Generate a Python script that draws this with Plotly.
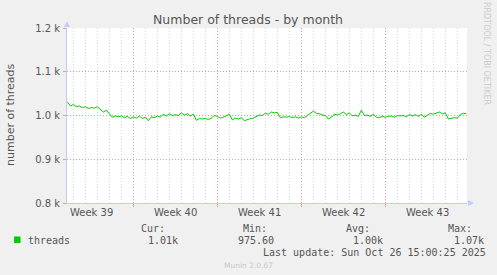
import plotly.graph_objects as go

# ---------------- data ----------------
threads = [
    1031, 1022, 1025, 1020, 1022, 1018, 1020, 1016, 1018, 1017, 1020, 1014, 1008, 1012, 1004,
    996, 999, 997, 999, 995, 998, 993, 997, 994, 999, 993, 996, 988, 997, 995, 999, 996,
    1003, 999, 1004, 1000, 1002, 1000, 1006, 1001, 1004, 999, 1003, 989, 993, 992, 993, 991,
    994, 1000, 998, 994, 996, 1000, 1003, 990, 994, 992, 995, 988, 991, 993, 994, 998, 1001,
    1000, 1005, 1003, 1008, 1006, 1007, 995, 997, 996, 998, 995, 997, 994, 997, 995, 1000,
    1004, 1010, 1005, 1004, 1001, 1000, 992, 996, 1003, 1001, 1004, 1008, 1002, 1006, 999,
    1001, 998, 1012, 1000, 1001, 998, 1003, 996, 995, 998, 996, 998, 999, 996, 1000, 999,
    1000, 997, 1002, 999, 1002, 998, 1003, 996, 1001, 1005, 1003, 1006, 1008, 1004, 1006,
    992, 993, 995, 994, 1002, 1005, 1004,
]
# time in days from the left edge of the graph, one sample every 6 hours
days = [0.03 + 0.25 * i for i in range(len(threads))]

week_lines = [5.55, 12.55, 19.55, 26.55]
week_label_pos = [2.05, 9.05, 16.05, 23.05, 30.05]
week_labels = ["Week 39", "Week 40", "Week 41", "Week 42", "Week 43"]

y_ticks = [800, 900, 1000, 1100, 1200]
y_ticktext = ["0.8 k", "0.9 k", "1.0 k", "1.1 k", "1.2 k"]

series_name = "threads"
stats_labels = ["Cur:", "Min:", "Avg:", "Max:"]
stats_values = ["1.01k", "975.60", "1.00k", "1.07k"]
last_update = "Last update: Sun Oct 26 15:00:25 2025"

# ---------------- layout geometry (pixels) ----------------
W, H = 497, 275
L, T = 67, 28
PW, PH = 400, 175


def fx(px):
    return (px - L) / PW


def fy(py):
    return (T + PH - py) / PH


GREEN = "#00CC00"
TXT = "#555555"
PINK = "#E89898"
GRAY = "#D8D8D8"
AXIS = "#C4CCEE"
ARROW = "#C4CCFF"
MONO = "DejaVu Sans Mono"
SANS = "DejaVu Sans"

fig = go.Figure()
fig.add_trace(go.Scatter(
    x=days, y=threads, mode="lines", name=series_name,
    line=dict(color=GREEN, width=1), showlegend=False, hoverinfo="skip",
))
# invisible trace to drive secondary x axis labels
fig.add_trace(go.Scatter(x=[days[0]], y=[threads[0]], xaxis="x2", mode="markers",
                         marker=dict(opacity=0), showlegend=False, hoverinfo="skip"))

x_range = [0, PW / 12.0]

fig.update_layout(
    width=W, height=H,
    margin=dict(l=L, r=W - L - PW, t=T, b=H - T - PH, pad=0),
    paper_bgcolor="#F0F0F0", plot_bgcolor="#FFFFFF",
    showlegend=False,
    xaxis=dict(
        range=x_range, tickmode="array", tickvals=week_lines, showticklabels=False,
        showgrid=True, gridcolor=PINK, gridwidth=1, griddash="1px,2px",
        ticks="outside", ticklen=3, tickcolor=PINK, tickwidth=1,
        showline=True, linecolor=AXIS, linewidth=1, zeroline=False,
        minor=dict(tick0=0.55, dtick=1, showgrid=True, gridcolor=GRAY,
                   griddash="1px,2px", gridwidth=1, ticks=""),
        fixedrange=True,
    ),
    xaxis2=dict(
        range=x_range, overlaying="x", anchor="y", side="bottom",
        tickmode="array", tickvals=week_label_pos, ticktext=week_labels,
        showgrid=False, zeroline=False, showline=False, ticks="",
        tickfont=dict(family=SANS, size=10, color=TXT), ticklabelstandoff=2,
    ),
    yaxis=dict(
        range=[800, 1200], tickmode="array", tickvals=y_ticks, ticktext=y_ticktext,
        showgrid=True, gridcolor=PINK, gridwidth=1, griddash="1px,2px",
        ticks="outside", ticklen=3, tickcolor=PINK, tickwidth=1,
        showline=True, linecolor=AXIS, linewidth=1, zeroline=False,
        tickfont=dict(family=SANS, size=10, color=TXT), ticklabelstandoff=1,
    ),
)

ann = []


def text(s, px, py, size, color=TXT, family=SANS, xanchor="left", angle=0):
    ann.append(dict(text=s, x=fx(px), y=fy(py), xref="paper", yref="paper",
                    xanchor=xanchor, yanchor="middle", showarrow=False,
                    textangle=angle, borderpad=0,
                    font=dict(family=family, size=size, color=color)))


text("Number of threads - by month", 248, 19, 12.5, xanchor="center")
text("number of threads", 10, 115, 11, xanchor="center", angle=-90)
text("RRDTOOL / TOBI OETIKER", 487, 53, 8, color="#CCCCCC", xanchor="center", angle=90)
text(series_name, 27, 240, 10, family=MONO)
label_x = [140, 242, 345, 447]
value_x = [147, 236.5, 351.5, 453]
for lab, lx, val, vx in zip(stats_labels, label_x, stats_values, value_x):
    text(lab, lx, 228, 10, family=MONO)
    text(val, vx, 240, 10, family=MONO)
text(last_update, 261.5, 252, 10, family=MONO)
text("Munin 2.0.67", 248, 265, 7.5, color="#C8C8C8", xanchor="center")
fig.update_layout(annotations=ann)

shapes = [
    # legend colour box
    dict(type="rect", xref="paper", yref="paper", x0=fx(14), x1=fx(20.5), y0=fy(243), y1=fy(236.5),
         fillcolor=GREEN, line=dict(width=0)),
    # axis arrows
    dict(type="path", xref="paper", yref="paper",
         path=f"M {fx(64)} {fy(27)} L {fx(70)} {fy(27)} L {fx(67)} {fy(21)} Z",
         fillcolor=ARROW, line=dict(width=0)),
    dict(type="path", xref="paper", yref="paper",
         path=f"M {fx(468)} {fy(200)} L {fx(468)} {fy(206)} L {fx(474)} {fy(203)} Z",
         fillcolor=ARROW, line=dict(width=0)),
]
fig.update_layout(shapes=shapes)

fig.write_html("out.html")
